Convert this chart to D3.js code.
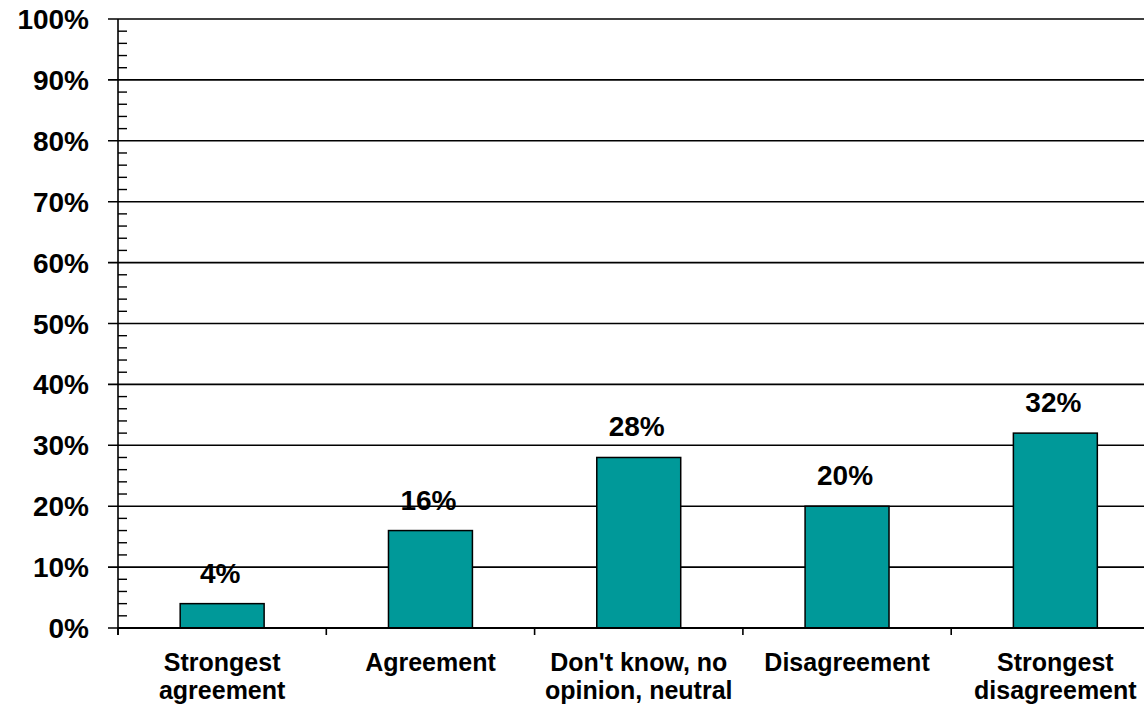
<!DOCTYPE html>
<html>
<head>
<meta charset="utf-8">
<script src="https://cdn.jsdelivr.net/npm/d3@7"></script>
<style>
  html, body { margin: 0; padding: 0; background: #fff; }
  svg { display: block; }
  text { font-family: Arial, "Liberation Sans", sans-serif; font-weight: bold; fill: #000; }
</style>
</head>
<body>
<svg id="chart" width="1144" height="707"></svg>
<script>
const categories = [
  ["Strongest", "agreement"],
  ["Agreement"],
  ["Don't know, no", "opinion, neutral"],
  ["Disagreement"],
  ["Strongest", "disagreement"]
];
const values = [0.04, 0.16, 0.28, 0.20, 0.32];
const valueLabels = ["4%", "16%", "28%", "20%", "32%"];
const majorTicks = [0, 0.1, 0.2, 0.3, 0.4, 0.5, 0.6, 0.7, 0.8, 0.9, 1.0];
const tickLabels = ["0%", "10%", "20%", "30%", "40%", "50%", "60%", "70%", "80%", "90%", "100%"];
const minorTicks = d3.range(0, 51).map(i => i / 50).filter((v, i) => i % 5 !== 0);

(function () {
const W = 1144;
const mLeft = 118, mRight = 1159.5, mTop = 19, mBottom = 628;
const svg = d3.select("#chart");

const keys = categories.map((c, i) => "c" + i);
const x = d3.scaleBand().domain(keys).range([mLeft, mRight]).paddingInner(0).paddingOuter(0);
const y = d3.scaleLinear().domain([0, 1]).range([mBottom, mTop]);

// gridlines (major ticks extend outward to the left)
svg.append("g").selectAll("line").data(majorTicks).join("line")
  .attr("x1", mLeft - 10).attr("x2", W)
  .attr("y1", d => y(d)).attr("y2", d => y(d))
  .attr("stroke", "#000").attr("stroke-width", 1.6);

// minor ticks (inside)
svg.append("g").selectAll("line").data(minorTicks).join("line")
  .attr("x1", mLeft).attr("x2", mLeft + 9)
  .attr("y1", d => y(d)).attr("y2", d => y(d))
  .attr("stroke", "#000").attr("stroke-width", 1.4);

// y axis line
svg.append("line").attr("x1", mLeft).attr("x2", mLeft)
  .attr("y1", y(1)).attr("y2", y(0) + 7)
  .attr("stroke", "#000").attr("stroke-width", 1.6);

// y tick labels
svg.append("g").selectAll("text").data(majorTicks).join("text")
  .attr("x", mLeft - 29).attr("y", d => y(d))
  .attr("dy", "0.36em")
  .attr("text-anchor", "end")
  .style("font-size", "28px")
  .text((d, i) => tickLabels[i]);

// bars
const bw = x.bandwidth() * 0.403;
svg.append("g").selectAll("rect").data(values).join("rect")
  .attr("x", (d, i) => x(keys[i]) + x.bandwidth() / 2 - bw / 2)
  .attr("width", bw)
  .attr("y", d => y(d))
  .attr("height", d => y(0) - y(d))
  .attr("fill", "#009999")
  .attr("stroke", "#000").attr("stroke-width", 1.5);

// x axis line
svg.append("line").attr("x1", mLeft).attr("x2", W)
  .attr("y1", y(0)).attr("y2", y(0))
  .attr("stroke", "#000").attr("stroke-width", 1.8);

// x ticks at band boundaries
const bounds = keys.map(k => x(k)).concat([mRight]);
svg.append("g").selectAll("line").data(bounds).join("line")
  .attr("x1", d => d).attr("x2", d => d)
  .attr("y1", y(0)).attr("y2", y(0) + 7)
  .attr("stroke", "#000").attr("stroke-width", 1.6);

// value labels
svg.append("g").selectAll("text").data(values).join("text")
  .attr("x", (d, i) => x(keys[i]) + x.bandwidth() / 2 - 2)
  .attr("y", d => y(d) - 21)
  .attr("text-anchor", "middle")
  .style("font-size", "28px")
  .text((d, i) => valueLabels[i]);

// category labels
const cat = svg.append("g").selectAll("text").data(categories).join("text")
  .attr("text-anchor", "middle")
  .style("font-size", "25px");
cat.each(function (lines, i) {
  const t = d3.select(this);
  lines.forEach((ln, j) => {
    t.append("tspan")
      .attr("x", x(keys[i]) + x.bandwidth() / 2)
      .attr("y", 671 + j * 28)
      .text(ln);
  });
});
})();
</script>
</body>
</html>
